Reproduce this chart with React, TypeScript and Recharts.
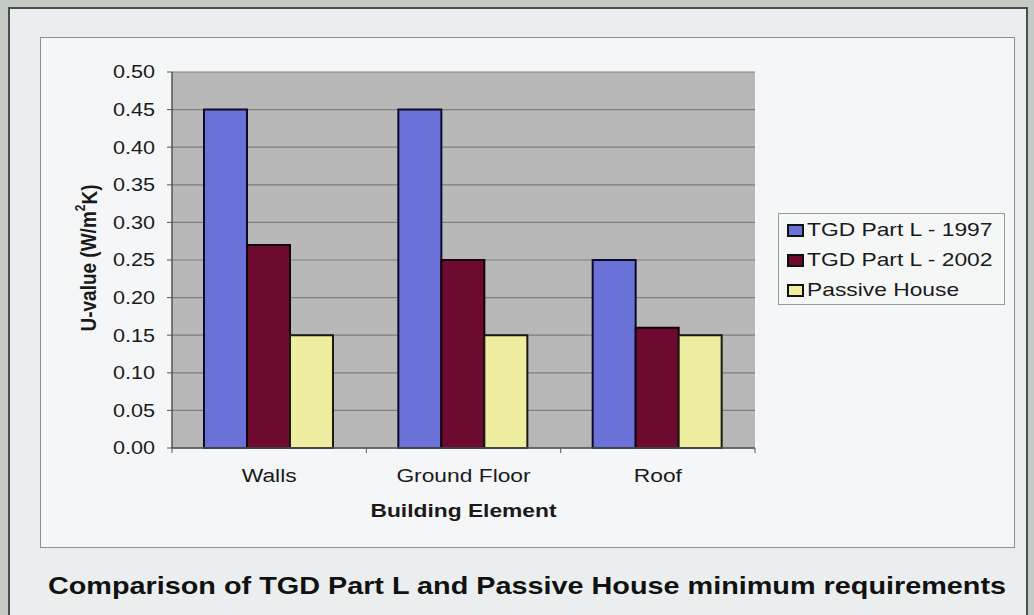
import { BarChart, Bar, XAxis, YAxis, CartesianGrid, Legend, Label } from "recharts";

const categories = ["Walls", "Ground Floor", "Roof"];
const tgd1997 = [0.45, 0.45, 0.25];
const tgd2002 = [0.27, 0.25, 0.16];
const passive = [0.15, 0.15, 0.15];
const yTicks = [0, 0.05, 0.1, 0.15, 0.2, 0.25, 0.3, 0.35, 0.4, 0.45, 0.5];

const seriesNames = ["TGD Part L - 1997", "TGD Part L - 2002", "Passive House"];
const seriesColors = ["#6a72d8", "#6c0b2f", "#eeeda0"];

const data = categories.map((name, i) => ({
  name,
  a: tgd1997[i],
  b: tgd2002[i],
  c: passive[i],
}));

// the scanned original is stretched sideways, so text is widened to match
const font = "Arial, 'Liberation Sans', sans-serif";
const stretch = 1.2;
const ink = "#1a1a1a";

function YTick({ x, y, payload }: any) {
  return (
    <text
      transform={`translate(${x},${y}) scale(${stretch},1)`}
      textAnchor="end"
      dominantBaseline="central"
      fontFamily={font}
      fontSize={18}
      fill={ink}
    >
      {Number(payload.value).toFixed(2)}
    </text>
  );
}

function XTick({ x, y, payload, width, visibleTicksCount, index }: any) {
  const band = width / visibleTicksCount;
  const top = y - 7;
  return (
    <g>
      <line x1={x - band / 2} x2={x - band / 2} y1={top} y2={top + 5} stroke="#555" />
      {index === visibleTicksCount - 1 && (
        <line x1={x + band / 2} x2={x + band / 2} y1={top} y2={top + 5} stroke="#555" />
      )}
      <text
        transform={`translate(${x},${top + 34}) scale(${stretch},1)`}
        textAnchor="middle"
        fontFamily={font}
        fontSize={19}
        fill={ink}
      >
        {payload.value}
      </text>
    </g>
  );
}

function XTitle({ viewBox }: any) {
  const cx = viewBox.x + viewBox.width / 2;
  const by = viewBox.y + 69;
  return (
    <text
      transform={`translate(${cx},${by}) scale(${stretch},1)`}
      textAnchor="middle"
      fontFamily={font}
      fontWeight="bold"
      fontSize={19}
      fill={ink}
    >
      Building Element
    </text>
  );
}

function YTitle({ viewBox }: any) {
  const cx = 88;
  const cy = viewBox.y + viewBox.height / 2 - 2;
  return (
    <text
      transform={`translate(${cx},${cy}) rotate(-90) scale(1,${stretch})`}
      textAnchor="middle"
      dominantBaseline="central"
      fontFamily={font}
      fontWeight="bold"
      fontSize={19}
      fill={ink}
    >
      U-value (W/m
      <tspan dy={-7} fontSize={12}>2</tspan>
      <tspan dy={7}>K)</tspan>
    </text>
  );
}

function LegendBox() {
  return (
    <div
      style={{
        boxSizing: "border-box",
        border: "1px solid #9a9a9a",
        background: "#f5f7f7",
        padding: "1px 0 1px 8px",
        width: 227,
        height: 92,
        fontFamily: font,
        fontSize: 19,
        color: ink,
      }}
    >
      {seriesNames.map((n, i) => (
        <div key={n} style={{ display: "flex", alignItems: "center", height: 30 }}>
          <span
            style={{
              boxSizing: "border-box",
              width: 17,
              height: 13,
              background: seriesColors[i],
              border: "2px solid #111",
              marginRight: 3,
              flex: "none",
            }}
          />
          <span
            style={{
              display: "inline-block",
              transform: `scaleX(${stretch})`,
              transformOrigin: "left center",
              whiteSpace: "nowrap",
            }}
          >
            {n}
          </span>
        </div>
      ))}
    </div>
  );
}

export default function App() {
  return (
    <div
      style={{
        position: "absolute",
        left: 0,
        top: 0,
        width: 1034,
        height: 615,
        background: "#c4cbc4",
        overflow: "hidden",
      }}
    >
      <div
        style={{
          position: "absolute",
          left: 8,
          top: 7,
          width: 1016,
          height: 620,
          border: "2px solid #4a4d4d",
          background: "#eaeeee",
        }}
      />
      <div
        style={{
          position: "absolute",
          left: 40,
          top: 37,
          width: 973,
          height: 509,
          border: "1px solid #8c8f90",
          background: "#f4f6f7",
        }}
      />
      <div
        style={{
          position: "absolute",
          left: 0,
          top: 572,
          width: 1054,
          textAlign: "center",
          fontFamily: font,
          fontWeight: "bold",
          fontSize: 24,
          lineHeight: "28px",
          color: "#111",
          transform: `scaleX(${stretch})`,
          transformOrigin: "527px 0",
        }}
      >
        Comparison of TGD Part L and Passive House minimum requirements
      </div>
      <div style={{ position: "absolute", left: 0, top: 0 }}>
        <BarChart
          width={1034}
          height={615}
          data={data}
          margin={{ top: 72, right: 279, bottom: 97, left: 72 }}
          barCategoryGap={32}
          barGap={0}
        >
          <CartesianGrid
            vertical={false}
            fill="#b8b8b8"
            stroke="#7e7e7e"
            strokeWidth={1.2}
          />
          <XAxis
            dataKey="name"
            height={70}
            axisLine={{ stroke: "#555", strokeWidth: 1.5 }}
            tickLine={false}
            tickSize={5}
            tickMargin={2}
            tick={<XTick />}
          >
            <Label content={<XTitle />} />
          </XAxis>
          <YAxis
            width={100}
            domain={[0, 0.5]}
            ticks={yTicks}
            interval={0}
            axisLine={{ stroke: "#555", strokeWidth: 1.5 }}
            tickLine={{ stroke: "#555" }}
            tickSize={5}
            tickMargin={12}
            tick={<YTick />}
          >
            <Label content={<YTitle />} />
          </YAxis>
          <Legend
            layout="vertical"
            verticalAlign="middle"
            align="center"
            content={<LegendBox />}
            wrapperStyle={{ left: 778, top: 213, width: 227, height: 92 }}
          />
          <Bar dataKey="a" name={seriesNames[0]} fill={seriesColors[0]} stroke="#0c0c2a" strokeWidth={2} isAnimationActive={false} />
          <Bar dataKey="b" name={seriesNames[1]} fill={seriesColors[1]} stroke="#140008" strokeWidth={2} isAnimationActive={false} />
          <Bar dataKey="c" name={seriesNames[2]} fill={seriesColors[2]} stroke="#1a1a10" strokeWidth={2} isAnimationActive={false} />
        </BarChart>
      </div>
    </div>
  );
}
